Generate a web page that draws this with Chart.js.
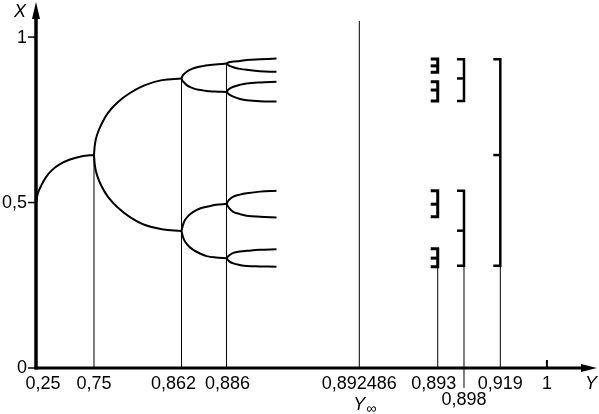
<!DOCTYPE html>
<html>
<head>
<meta charset="utf-8">
<script src="https://cdn.jsdelivr.net/npm/chart.js@4"></script>
<style>
  html, body { margin: 0; padding: 0; background: #fff; }
  canvas { display: block; }
</style>
</head>
<body>
<canvas id="c" width="599" height="414"></canvas>
<script>
// ---- Data ----
// Horizontal axis is schematic: tick values at their drawn positions (0..100 scale units)
const xTickLabels = ['0,25', '0,75', '0,862', '0,886', '0,892486', '0,893', '0,898', '0,919', '1'];
const xTickPos    = [0, 11.35, 28.48, 37.29, 63.28, 78.63, 83.77, 90.88, 100];
const yTickValues = [0, 0.5, 1];
const yTickLabels = ['0', '0,5', '1'];

// vertical guide lines: [position, bottom X, top X]
const guideLines = [
  [11.35, 0, 0.644],
  [28.48, 0, 0.875],
  [37.29, 0, 0.922],
  [63.28, 0, 1.049],
  [78.63, 0, 0.306],
  [83.77, -0.06, 0.309],
  [90.88, 0, 0.309]
];

// branches: [Y position, X]
const period1 = [[0,0.50],[0.39,0.529],[0.98,0.550],[1.96,0.577],[3.13,0.598],[4.70,0.616],[6.65,0.630],[9.00,0.640],[11.35,0.644]];
const period2Up = [[11.35,0.644],[11.55,0.678],[11.94,0.704],[12.72,0.734],[14.09,0.771],[16.05,0.804],[18.40,0.831],[21.33,0.855],[24.66,0.870],[28.48,0.875]];
const period2Down = [[11.35,0.644],[11.55,0.609],[11.94,0.583],[12.72,0.553],[14.09,0.517],[16.05,0.484],[18.40,0.456],[21.33,0.432],[24.66,0.419],[28.48,0.414]];

const period4A = [[28.48,0.875],[28.77,0.885],[29.56,0.896],[30.53,0.904],[31.51,0.909],[32.88,0.913],[34.06,0.916],[35.62,0.918],[37.29,0.920]];
const period4B = [[28.48,0.875],[28.77,0.866],[29.50,0.855],[30.34,0.848],[31.45,0.842],[32.69,0.839],[34.06,0.836],[35.62,0.835],[37.29,0.834]];
const period4C = [[28.48,0.414],[28.77,0.432],[29.16,0.447],[29.95,0.462],[30.79,0.472],[32.10,0.482],[33.41,0.487],[35.23,0.493],[37.29,0.496]];
const period4D = [[28.48,0.414],[28.77,0.396],[29.16,0.382],[29.95,0.367],[30.79,0.357],[32.10,0.346],[33.41,0.338],[35.23,0.334],[37.29,0.332]];

const period8A = [[37.29,0.920],[37.78,0.924],[38.62,0.926],[39.93,0.928],[41.24,0.931],[43.84,0.933],[47.07,0.935]];
const period8B = [[37.29,0.920],[37.78,0.914],[38.62,0.909],[39.93,0.904],[41.24,0.901],[43.84,0.897],[47.07,0.895]];
const period8C = [[37.29,0.834],[37.78,0.843],[38.62,0.850],[39.93,0.856],[41.24,0.860],[43.84,0.863],[47.07,0.865]];
const period8D = [[37.29,0.834],[37.78,0.827],[38.62,0.820],[39.93,0.813],[41.24,0.809],[43.84,0.806],[47.07,0.805]];
const period8E = [[37.29,0.496],[37.78,0.508],[38.62,0.518],[39.93,0.524],[41.24,0.528],[43.84,0.533],[47.07,0.536]];
const period8F = [[37.29,0.496],[37.78,0.484],[38.62,0.472],[39.93,0.465],[41.24,0.460],[43.84,0.457],[47.07,0.455]];
const period8G = [[37.29,0.332],[37.78,0.340],[38.62,0.348],[39.93,0.352],[41.24,0.354],[43.84,0.357],[47.07,0.359]];
const period8H = [[37.29,0.332],[37.78,0.323],[38.62,0.316],[39.93,0.311],[41.24,0.308],[43.84,0.307],[47.07,0.306]];

// brackets: [top, middle, bottom] X ranges at a tick position
const brackets0893 = [[0.934,0.913,0.894],[0.865,0.840,0.807],[0.536,0.495,0.457],[0.360,0.332,0.306]];
const brackets0898 = [[0.933,0.875,0.807],[0.536,0.415,0.309]];
const brackets0919 = [[0.933,0.6435,0.309]];

// ---- Styling ----
const FONT = '"Liberation Sans", Arial, sans-serif';
const BRACKET_TICK = 1.37;       // horizontal bracket tick length (scale units)
const labelNudge = [7, 0, -8, 1, 0, -4, 0, 0, 0];
const labelRow   = [0, 0, 0, 0, 0, 0, 1, 0, 0];

const toPts = arr => arr.map(([x, y]) => ({x, y}));
const datasets = [];
function curve(arr) {
  datasets.push({ data: toPts(arr), showLine: true, borderColor: '#000', borderWidth: 2,
    pointRadius: 0, tension: 0.4, fill: false, clip: false });
}
function straight(pts, w) {
  datasets.push({ data: pts, showLine: true, borderColor: '#000', borderWidth: w,
    pointRadius: 0, tension: 0, fill: false, clip: false, borderJoinStyle: 'miter' });
}
guideLines.forEach(([p, b, t]) => straight([{x:p, y:b}, {x:p, y:t}], 1));
[period1, period2Up, period2Down, period4A, period4B, period4C, period4D,
 period8A, period8B, period8C, period8D, period8E, period8F, period8G, period8H].forEach(curve);
function addBrackets(pos, groups, w) {
  groups.forEach(([t, m, b]) => {
    straight([{x:pos-BRACKET_TICK, y:t}, {x:pos, y:t}, {x:pos, y:b}, {x:pos-BRACKET_TICK, y:b}], w);
    straight([{x:pos-BRACKET_TICK, y:m}, {x:pos, y:m}], w);
  });
}
addBrackets(xTickPos[5], brackets0893, 3);
addBrackets(xTickPos[6], brackets0898, 2.5);
addBrackets(xTickPos[7], brackets0919, 2.5);

const axesPlugin = {
  id: 'schematicAxes',
  afterDatasetsDraw(chart) {
    const {ctx, chartArea: a, scales: {x, y}} = chart;
    const x0 = x.getPixelForValue(0), y0 = y.getPixelForValue(0);
    ctx.save();
    ctx.strokeStyle = '#000'; ctx.fillStyle = '#000';
    // vertical axis
    ctx.lineWidth = 3.5;
    ctx.beginPath(); ctx.moveTo(x0, y0 + 1.5); ctx.lineTo(x0, a.top + 12); ctx.stroke();
    ctx.beginPath(); ctx.moveTo(x0, a.top - 2); ctx.lineTo(x0 - 4, a.top + 15); ctx.lineTo(x0 + 4, a.top + 15); ctx.closePath(); ctx.fill();
    // horizontal axis
    ctx.lineWidth = 3;
    ctx.beginPath(); ctx.moveTo(x0 - 1.5, y0); ctx.lineTo(a.right - 14, y0); ctx.stroke();
    ctx.beginPath(); ctx.moveTo(a.right - 1, y0); ctx.lineTo(a.right - 17, y0 - 4); ctx.lineTo(a.right - 17, y0 + 4); ctx.closePath(); ctx.fill();
    // y ticks + labels
    ctx.font = '18px ' + FONT;
    ctx.textAlign = 'right'; ctx.textBaseline = 'middle';
    ctx.lineWidth = 1.5;
    yTickValues.forEach((v, i) => {
      const py = y.getPixelForValue(v);
      ctx.beginPath(); ctx.moveTo(x0 - 8, py); ctx.lineTo(x0, py); ctx.stroke();
      ctx.fillText(yTickLabels[i], x0 - 9, py + 0.5);
    });
    // tick mark at 1 on horizontal axis
    const p1 = x.getPixelForValue(xTickPos[8]);
    ctx.lineWidth = 2;
    ctx.beginPath(); ctx.moveTo(p1, y0 - 8); ctx.lineTo(p1, y0); ctx.stroke();
    // x labels
    ctx.textAlign = 'center'; ctx.textBaseline = 'middle';
    xTickLabels.forEach((lab, i) => {
      const px = x.getPixelForValue(xTickPos[i]) + labelNudge[i];
      ctx.fillText(lab, px, y0 + 16 + labelRow[i] * 16);
    });
    // axis names
    ctx.font = 'italic 18px ' + FONT;
    ctx.fillText('X', 20, 12);
    ctx.fillText('Y', 591, 384);
    // Y infinity under 0,892486
    const pinf = x.getPixelForValue(xTickPos[4]);
    ctx.textAlign = 'right';
    ctx.fillText('Y', pinf + 6, y0 + 37);
    ctx.font = '14px ' + FONT;
    ctx.textAlign = 'left';
    ctx.fillText('\u221E', pinf + 7, y0 + 41);
    ctx.restore();
  }
};

new Chart(document.getElementById('c'), {
  type: 'scatter',
  data: { datasets },
  options: {
    responsive: false,
    animation: false,
    devicePixelRatio: 1,
    layout: { padding: { left: 36, right: 1, top: 4, bottom: 46 } },
    plugins: { legend: { display: false }, tooltip: { enabled: false } },
    scales: {
      x: { type: 'linear', min: 0, max: 110, display: false },
      y: { type: 'linear', min: 0, max: 1.1, display: false }
    }
  },
  plugins: [axesPlugin]
});
</script>
</body>
</html>
